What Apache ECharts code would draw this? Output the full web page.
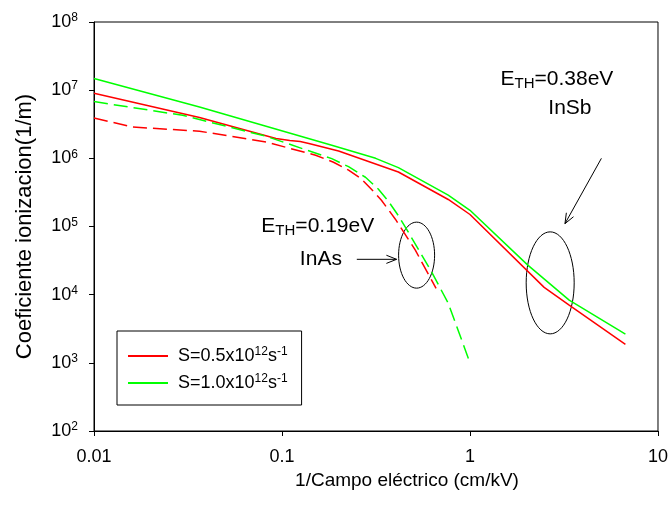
<!DOCTYPE html>
<html>
<head>
<meta charset="utf-8">
<script src="https://cdn.jsdelivr.net/npm/echarts@6/dist/echarts.min.js"></script>
<style>
  html, body { margin: 0; padding: 0; background: #fff; }
  #chart { width: 671px; height: 509px; }
</style>
</head>
<body>
<div id="chart"></div>
<script>
// Ionization coefficient vs. inverse electric field, [1/E (cm/kV), alpha (1/m)]
// InSb (E_TH = 0.38 eV), solid lines
const insbS05 = [
  [0.01, 9.0e6], [0.0364, 3.96e6], [0.0929, 1.95e6], [0.11, 1.82e6],
  [0.125, 1.76e6], [0.139, 1.65e6], [0.2, 1.28e6], [0.416, 6.3e5],
  [0.766, 2.49e5], [1.0, 1.5e5], [2.48, 1.28e4], [3.37, 7.0e3], [6.71, 1.86e3]
];
const insbS10 = [
  [0.01, 1.48e7], [0.0364, 5.67e6], [0.184, 1.56e6], [0.315, 1.0e6],
  [0.416, 7.3e5], [0.766, 2.88e5], [1.0, 1.73e5], [2.03, 2.71e4],
  [3.37, 8.3e3], [6.71, 2.64e3]
];
// InAs (E_TH = 0.19 eV), dashed lines
const inasS05 = [
  [0.01, 3.9e6], [0.0161, 2.88e6], [0.0364, 2.5e6], [0.0822, 1.74e6],
  [0.151, 1.11e6], [0.188, 8.77e5], [0.226, 6.7e5], [0.262, 5.11e5],
  [0.299, 3.52e5], [0.338, 2.43e5], [0.401, 1.28e5], [0.512, 4.49e4],
  [0.66, 1.24e4]
];
const inasS10 = [
  [0.01, 6.8e6], [0.0296, 4.28e6], [0.0822, 2.11e6], [0.184, 9.9e5],
  [0.226, 7.54e5], [0.278, 5.28e5], [0.326, 3.52e5], [0.368, 2.35e5],
  [0.416, 1.44e5], [0.47, 8.25e4], [0.622, 2.21e4], [0.766, 7.5e3],
  [1.0, 1.0e3]
];

const seriesNames = ['S=0.5x10^12s^-1', 'S=1.0x10^12s^-1'];
const xTicks = [0.01, 0.1, 1, 10];
const yRange = [1e2, 1e8];

const FONT = "'Liberation Sans', Arial, Helvetica, sans-serif";
const RED = '#ff0000';
const GREEN = '#00ff00';

// "S=0.5x10^12s^-1" -> rich text with superscripts
function legendLabel(name) {
  const m = name.match(/^(S=[\d.]+x10)\^(\d+)s\^(-?\d+)$/);
  return '{t0|' + m[1] + '}{sup|' + m[2] + '}{t|s}{sup|' + m[3] + '}';
}

function lineSeries(name, data, color, dashed) {
  return {
    name: name,
    type: 'line',
    data: data,
    symbol: 'none',
    showSymbol: false,
    smooth: false,
    itemStyle: { color: color },
    lineStyle: { color: color, width: 1.5, type: dashed ? [14, 6] : 'solid' },
    emphasis: { disabled: true },
    animation: false
  };
}

const chart = echarts.init(document.getElementById('chart'), null, { renderer: 'canvas' });

chart.setOption({
  backgroundColor: '#fff',
  animation: false,
  grid: {
    left: 94, right: 10, top: 22, bottom: 78,
    show: true, borderColor: '#000', borderWidth: 1, backgroundColor: 'transparent'
  },
  xAxis: {
    type: 'log', logBase: 10, min: xTicks[0], max: xTicks[xTicks.length - 1],
    splitNumber: 3,
    axisLine: { show: true, lineStyle: { color: '#000', width: 1 } },
    axisTick: { show: true, inside: false, length: 5, lineStyle: { color: '#000' } },
    minorTick: { show: false },
    splitLine: { show: false },
    axisLabel: {
      margin: 17, color: '#000', fontFamily: FONT, fontSize: 18,
      formatter: v => String(Number(v.toPrecision(3)))
    },
    name: '1/Campo eléctrico (cm/kV)',
    nameLocation: 'middle', nameGap: 40,
    nameTextStyle: { color: '#000', fontFamily: FONT, fontSize: 19, padding: [0, 0, 0, 62] }
  },
  yAxis: {
    type: 'log', logBase: 10, min: yRange[0], max: yRange[1],
    splitNumber: 6,
    axisLine: { show: true, lineStyle: { color: '#000', width: 1 } },
    axisTick: { show: true, inside: false, length: 5, lineStyle: { color: '#000' } },
    minorTick: { show: false },
    splitLine: { show: false },
    axisLabel: {
      margin: 16, color: '#000', fontFamily: FONT,
      formatter: v => '{b|10}{s|' + Math.round(Math.log10(v)) + '}',
      rich: {
        b: { fontFamily: FONT, fontSize: 18, lineHeight: 20, color: '#000' },
        s: { fontFamily: FONT, fontSize: 12, lineHeight: 12, color: '#000', verticalAlign: 'top' }
      }
    },
    name: 'Coeficiente ionizacion(1/m)',
    nameLocation: 'middle', nameGap: 58,
    nameTextStyle: { color: '#000', fontFamily: FONT, fontSize: 22 }
  },
  legend: {
    orient: 'vertical', left: 117, top: 331,
    data: seriesNames.map(n => ({ name: n, icon: 'rect' })),
    itemWidth: 40, itemHeight: 2, itemGap: 7,
    padding: [15, 14, 12, 11],
    borderColor: '#000', borderWidth: 1,
    selectedMode: false,
    formatter: legendLabel,
    textStyle: {
      fontFamily: FONT, fontSize: 18, color: '#000', lineHeight: 20,
      rich: {
        t0: { fontFamily: FONT, fontSize: 18, lineHeight: 20, color: '#000', padding: [0, 0, 0, 5] },
        t: { fontFamily: FONT, fontSize: 18, lineHeight: 20, color: '#000' },
        sup: { fontFamily: FONT, fontSize: 12, lineHeight: 12, color: '#000', verticalAlign: 'top' }
      }
    }
  },
  series: [
    lineSeries(seriesNames[0], insbS05, RED, false),
    lineSeries(seriesNames[1], insbS10, GREEN, false),
    lineSeries(seriesNames[0], inasS05, RED, true),
    lineSeries(seriesNames[1], inasS10, GREEN, true)
  ]
});

// Annotations placed in data coordinates
const toPx = p => chart.convertToPixel({ gridIndex: 0 }, p);

function arrow(from, to) {
  const a = toPx(from), b = toPx(to);
  const ang = Math.atan2(b[1] - a[1], b[0] - a[0]);
  const L = 11, spread = 0.38;
  const h1 = [b[0] - L * Math.cos(ang - spread), b[1] - L * Math.sin(ang - spread)];
  const h2 = [b[0] - L * Math.cos(ang + spread), b[1] - L * Math.sin(ang + spread)];
  return [
    { type: 'line', shape: { x1: a[0], y1: a[1], x2: b[0], y2: b[1] }, style: { stroke: '#000', lineWidth: 1 } },
    { type: 'polyline', shape: { points: [h1, b, h2] }, style: { stroke: '#000', lineWidth: 1, fill: null } }
  ];
}

function ellipse(center, rx, ry) {
  const c = toPx(center);
  return { type: 'ellipse', shape: { cx: c[0], cy: c[1], rx: rx, ry: ry }, style: { stroke: '#000', lineWidth: 1, fill: null } };
}

const labelRich = {
  m: { fontFamily: FONT, fontSize: 21, lineHeight: 24, fill: '#000' },
  sub: { fontFamily: FONT, fontSize: 15, lineHeight: 15, fill: '#000', verticalAlign: 'bottom' }
};

function label(at, text) {
  const p = toPx(at);
  return {
    type: 'text', x: p[0], y: p[1],
    style: { text: text, align: 'center', verticalAlign: 'middle', rich: labelRich, fill: '#000', font: '21px ' + FONT }
  };
}

chart.setOption({
  graphic: [
    ellipse([0.52, 3.8e4], 18, 33),
    ellipse([2.67, 1.49e4], 24, 51),
    ...arrow([0.25, 3.3e4], [0.407, 3.3e4]),
    ...arrow([5.0, 1.0e6], [3.2, 1.1e5]),
    label([0.155, 1.0e5], '{m|E}{sub|TH}{m|=0.19eV}'),
    label([0.161, 3.3e4], '{m|InAs}'),
    label([2.9, 1.44e7], '{m|E}{sub|TH}{m|=0.38eV}'),
    label([3.4, 5.4e6], '{m|InSb}')
  ]
});
</script>
</body>
</html>
